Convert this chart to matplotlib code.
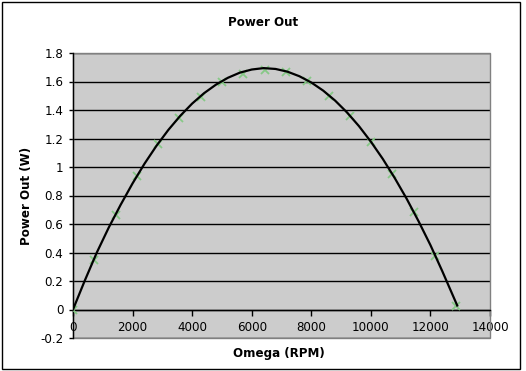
import matplotlib
matplotlib.use('Agg')
import matplotlib.pyplot as plt
from matplotlib.patches import Rectangle

# Measured data points (green markers)
omega = [0, 715, 1430, 2145, 2860, 3575, 4290, 5005, 5720, 6435, 7150,
         7865, 8580, 9295, 10010, 10725, 11440, 12155, 12870]
power = [0.0, 0.35, 0.66, 0.935, 1.16, 1.345, 1.49, 1.595, 1.656, 1.684, 1.668,
         1.603, 1.497, 1.357, 1.174, 0.952, 0.683, 0.374, 0.023]

# Black curve
curve_omega = [0, 400, 800, 1200, 1600, 2000, 2400, 2800, 3200, 3600, 4000, 4400,
               4800, 5200, 5600, 6000, 6400, 6800, 7200, 7600, 8000, 8400, 8800,
               9200, 9600, 10000, 10400, 10800, 11200, 11600, 12000, 12400, 12900]
curve_power = [0.0, 0.205, 0.40, 0.575, 0.735, 0.885, 1.023, 1.148, 1.26, 1.359,
               1.445, 1.518, 1.578, 1.626, 1.662, 1.684, 1.694, 1.688, 1.669, 1.637,
               1.593, 1.536, 1.466, 1.383, 1.287, 1.178, 1.057, 0.923, 0.778, 0.62,
               0.452, 0.268, 0.028]

x_ticks = [0, 2000, 4000, 6000, 8000, 10000, 12000, 14000]
y_ticks = [-0.2, 0, 0.2, 0.4, 0.6, 0.8, 1, 1.2, 1.4, 1.6, 1.8]
y_labels = ['-0.2', '0', '0.2', '0.4', '0.6', '0.8', '1', '1.2', '1.4', '1.6', '1.8']

W, H = 526, 371
fig = plt.figure(figsize=(W / 100, H / 100), dpi=100)
fig.patch.set_facecolor('white')

ax = fig.add_axes([73 / W, (H - 338) / H, (490 - 73) / W, (338 - 53) / H])
ax.set_facecolor('#cccccc')

ax.set_xlim(0, 14000)
ax.set_ylim(-0.2, 1.8)
ax.set_xticks(x_ticks)
ax.set_xticklabels([str(t) for t in x_ticks])
ax.set_yticks(y_ticks)
ax.set_yticklabels(y_labels)

ax.set_axisbelow(True)
ax.yaxis.grid(True, color='black', linewidth=1.0)
ax.xaxis.grid(False)

# grey plot-area border drawn above the grid
ax.add_patch(Rectangle((0, 0), 1, 1, transform=ax.transAxes, fill=False,
                       edgecolor='#808080', linewidth=1.0, zorder=2.4,
                       clip_on=False))

for s in ['top', 'right']:
    ax.spines[s].set_visible(False)
ax.spines['left'].set_color('black')
ax.spines['left'].set_linewidth(1.0)
ax.spines['bottom'].set_position(('data', 0))
ax.spines['bottom'].set_color('black')
ax.spines['bottom'].set_linewidth(1.0)

ax.tick_params(axis='x', direction='out', length=4, width=1, pad=4,
               labelsize=8.6, colors='black')
ax.tick_params(axis='y', direction='out', length=3, width=1, pad=4,
               labelsize=8.6, colors='black')

ax.plot(omega, power, linestyle='none', marker='x', markersize=6,
        markeredgewidth=1.3, color='#86c986', zorder=3)
ax.plot(curve_omega, curve_power, color='black', linewidth=1.6, zorder=4)

fig.text(263 / W, 1 - 23 / H, 'Power Out', ha='center', va='center',
         fontsize=8.6, fontweight='bold')
fig.text(27 / W, 1 - 196 / H, 'Power Out (W)', ha='center', va='center',
         rotation=90, fontsize=8.6, fontweight='bold')
fig.text(279 / W, 1 - 354 / H, 'Omega (RPM)', ha='center', va='center',
         fontsize=8.6, fontweight='bold')

fig.patches.append(Rectangle((2 / W, 2 / H), (520 - 2) / W, (369 - 2) / H,
                             transform=fig.transFigure, fill=False,
                             edgecolor='black', linewidth=1.0))

fig.savefig('out.png', dpi=100)
